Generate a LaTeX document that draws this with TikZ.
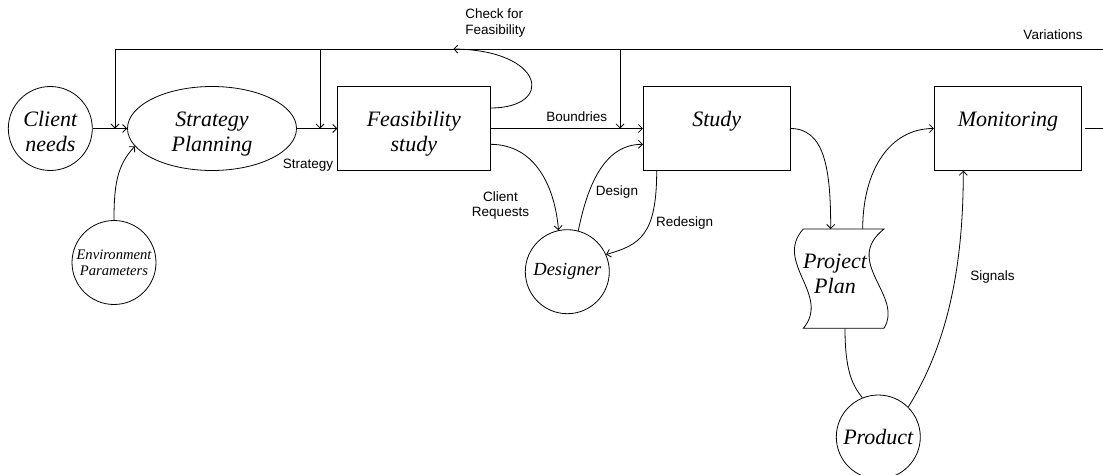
\documentclass[tikz,border=0pt]{standalone}
\usepackage{fontspec}
\setmainfont{Liberation Serif}
\setsansfont{Liberation Sans}
\usetikzlibrary{arrows.meta,shapes.geometric}
\newcommand{\upstrut}{\rule{0pt}{26pt}}
\newcommand{\downstrut}{\rule[-6pt]{0pt}{6pt}}
\begin{document}
\begin{tikzpicture}[x=1pt, y=1pt, line width=0.8pt, >={Straight Barb[length=4pt,width=8pt]},
big text/.style={font=\fontsize{22pt}{25pt}\selectfont\itshape, align=center, inner sep=0pt},
main node/.style={circle,draw,minimum size=84pt,big text},
oval node/.style={ellipse,draw,minimum width=169pt,minimum height=84pt,big text},
box node/.style={rectangle,draw,minimum height=83.7pt,big text},
one line/.style={text height=15pt,text depth=20pt},
flow label/.style={font=\fontsize{13.5pt}{15.7pt}\selectfont\sffamily, align=center, inner sep=0pt}]
\useasboundingbox (0,0) rectangle (1103,-474);
\node [main node] (need) at (50.3,-128.5) {\upstrut Client\\needs\downstrut};
\node [oval node] (strat) at (212,-128.5) {\upstrut Strategy\\Planning\downstrut};
\node [box node,minimum width=152.3pt] (feas) at (413.8,-128.5) {\upstrut Feasibility\\study\downstrut};
\node [box node,one line,minimum width=146.7pt] (study) at (716.7,-128.5) {Study};
\node [box node,one line,minimum width=147.3pt] (mon) at (1008,-128.5) {Monitoring};
\node [main node,font=\fontsize{14.6pt}{16pt}\selectfont\itshape] (env) at (114,-262.5) {Environment\\Parameters};
\node [main node,font=\fontsize{18.5pt}{22pt}\selectfont\itshape] (des) at (567.3,-271.7) {Designer};
\node [big text] (plan) at (835,-273.5) {Project\\Plan};
\node [main node] (prod) at (878.3,-437) {Product};
% wavy sheet round the plan
\begin{scope}[shift={(plan.center)}]
\draw (-31.7,44.5) -- (49,44.5)
  .. controls (7,11.4) and (69,-21.7) .. (49,-54.8)
  -- (-31.7,-54.8)
  .. controls (-3.7,-21.7) and (-61.7,11.4) .. (-31.7,44.5) -- cycle;
\coordinate (plan in) at (-4.3,44.5);
\coordinate (plan out) at (27.7,44.5);
\coordinate (plan down) at (10,-54.8);
\end{scope}
\coordinate (tl) at (115,-49);
\coordinate (tr) at (1103,-49);
\coordinate (chk) at (453.3,-49);
\coordinate (j1) at (115,-128.5);
\coordinate (j2) at (320,-128.5);
\coordinate (j3) at (620,-128.5);
\coordinate (mout) at (1103,-128.5);
\path[->]
    (need) edge (strat)
    (strat) edge (feas)
    (feas) edge (study)
    (tl) edge (j1)
    (j2 |- tl) edge (j2)
    (j3 |- tl) edge (j3)
         ;
\draw (tl) -- (tr);
\draw[shorten <=3pt] (mon) -- (mout);
\draw[->] ([yshift=20.5pt]feas.east) .. controls (555,-108) and (545,-50) .. (chk);
\draw[->] ([yshift=-15.8pt]feas.east) .. controls (536,-144.3) and (555,-188) .. (des.102);
\draw[->] (des.75) .. controls (587,-188) and (603,-144.3) .. ([yshift=-15.8pt]study.west);
\draw[->] ([xshift=-60pt]study.south) .. controls (656.7,-235) and (640,-245) .. (des.24);
\draw[->] (study.east) .. controls (825,-128.5) and (830.7,-170) .. (plan in);
\draw[->] (plan out) .. controls (862.7,-170) and (890,-128.5) .. (mon.west);
\draw (plan down) .. controls (845,-370) and (852,-385) .. (prod.112);
\draw[->] (prod.45) .. controls (950,-340) and (963.3,-260) .. ([xshift=-44.7pt]mon.south);
\draw[->] (env.north) .. controls (114,-185) and (117,-165) .. (strat.193);
\begin{scope}[every node/.style={flow label}]
\node (l strat) at (308,-165) {Strategy};
\node [align=left,anchor=west] (l check) at (465,-23) {Check for\\Feasibility};
\node (l bound) at (576.7,-117) {Boundries};
\node (l req) at (500.5,-205.5) {Client\\Requests};
\node (l design) at (617,-191.7) {Design};
\node (l redesign) at (684.7,-222.7) {Redesign};
\node (l signals) at (992.5,-277.3) {Signals};
\node (l var) at (1053,-35) {Variations};
\end{scope}
\end{tikzpicture}
\end{document}
